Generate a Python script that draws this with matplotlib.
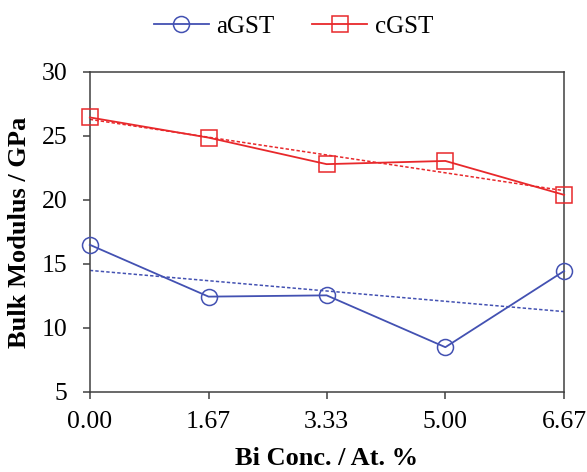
import numpy as np
import matplotlib
matplotlib.use("Agg")
import matplotlib.pyplot as plt

plt.rcParams['font.family'] = ['Liberation Serif', 'DejaVu Serif']

# Bi concentration (at. %) and bulk modulus (GPa)
bi_conc = [0.00, 1.67, 3.33, 5.00, 6.67]
tick_labels = ['0.00', '1.67', '3.33', '5.00', '6.67']
agst = [16.5, 12.45, 12.55, 8.5, 14.45]
cgst = [26.45, 24.87, 22.8, 23.05, 20.4]

blue = '#4351B2'
red = '#E8282B'

fig = plt.figure(figsize=(5.87, 4.72), dpi=100)
ax = fig.add_axes([0.153, 0.1695, 0.808, 0.678])

x = np.array(bi_conc)
ax.plot(x, agst, color=blue, lw=1.3, marker='o', ms=11.5, mfc='none',
        mec=blue, mew=1.1, label='aGST', zorder=3, clip_on=False)
ax.plot(x, cgst, color=red, lw=1.3, marker='s', ms=12, mfc='none',
        mec=red, mew=1.1, label='cGST', zorder=3, clip_on=False)

# linear trendlines
for y, c in [(agst, blue), (cgst, red)]:
    k, b = np.polyfit(x, y, 1)
    ax.plot(x[[0, -1]], k * x[[0, -1]] + b, color=c, lw=1.1,
            ls=(0, (2.2, 1.4)), zorder=2)

ax.set_xlim(0, 6.67)
ax.set_ylim(5, 30)
ax.set_xticks(bi_conc)
ax.set_xticklabels(tick_labels)
ax.set_yticks([5, 10, 15, 20, 25, 30])

for s in ax.spines.values():
    s.set_color('#404040')
    s.set_linewidth(1.1)
ax.tick_params(direction='out', length=5, width=1.1, color='#404040',
               labelsize=18.5)
ax.tick_params(axis='x', pad=9)
ax.tick_params(axis='y', pad=11)

ax.set_xlabel('Bi Conc. / At. %', fontsize=19, fontweight='bold', labelpad=10)
ax.set_ylabel('Bulk Modulus / GPa', fontsize=19, fontweight='bold', labelpad=8)

fig.legend(loc='upper center', bbox_to_anchor=(0.5, 1.015), ncol=2,
           frameon=False, fontsize=18, handlelength=2.2, columnspacing=1.5,
           handletextpad=0.3)

fig.savefig('out.png', dpi=100)
